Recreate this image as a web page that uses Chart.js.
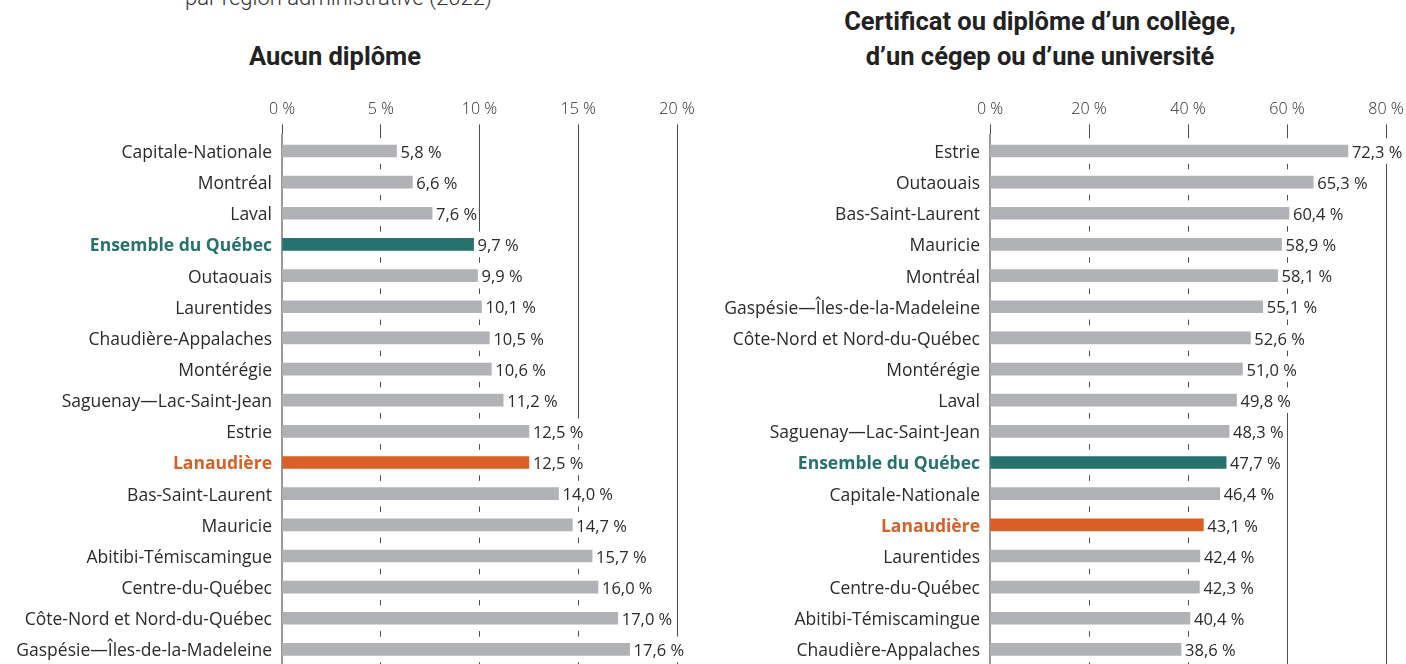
<!DOCTYPE html>
<html lang="fr">
<head>
<meta charset="utf-8">
<script src="https://cdn.jsdelivr.net/npm/chart.js@4"></script>
<style>
  html, body { margin: 0; padding: 0; background: #fff; overflow: hidden; }
  body { width: 1406px; height: 664px; position: relative; font-family: Roboto, "Noto Sans", sans-serif; color: #2b2b2b; }
  canvas { position: absolute; top: 0; }
  .title { position: absolute; width: 440px; text-align: center; font-weight: 700; font-size: 25.5px; line-height: 35px; color: #222; }
  .sub { position: absolute; left: 185px; top: -13px; font-size: 22px; line-height: 22px; font-weight: 300; color: #333; }
</style>
</head>
<body>
<div class="sub">par région administrative (2022)</div>
<div class="title" style="left:115px; top:39px;">Aucun diplôme</div>
<div class="title" style="left:820px; top:4px;">Certificat ou diplôme d’un collège,<br>d’un cégep ou d’une université</div>
<canvas id="left" width="700" height="665" style="left:0"></canvas>
<canvas id="right" width="706" height="665" style="left:700px"></canvas>
<script>
const leftRegions = [
  "Capitale-Nationale", "Montréal", "Laval", "Ensemble du Québec", "Outaouais",
  "Laurentides", "Chaudière-Appalaches", "Montérégie", "Saguenay—Lac-Saint-Jean",
  "Estrie", "Lanaudière", "Bas-Saint-Laurent", "Mauricie", "Abitibi-Témiscamingue",
  "Centre-du-Québec", "Côte-Nord et Nord-du-Québec", "Gaspésie—Îles-de-la-Madeleine",
];
const leftValues = [5.8, 6.6, 7.6, 9.7, 9.9, 10.1, 10.5, 10.6, 11.2, 12.5, 12.5, 14.0, 14.7, 15.7, 16.0, 17.0, 17.6];
const leftTicks = [0, 5, 10, 15, 20];

const rightRegions = [
  "Estrie", "Outaouais", "Bas-Saint-Laurent", "Mauricie", "Montréal",
  "Gaspésie—Îles-de-la-Madeleine", "Côte-Nord et Nord-du-Québec", "Montérégie", "Laval",
  "Saguenay—Lac-Saint-Jean", "Ensemble du Québec", "Capitale-Nationale", "Lanaudière",
  "Laurentides", "Centre-du-Québec", "Abitibi-Témiscamingue", "Chaudière-Appalaches",
];
const rightValues = [72.3, 65.3, 60.4, 58.9, 58.1, 55.1, 52.6, 51.0, 49.8, 48.3, 47.7, 46.4, 43.1, 42.4, 42.3, 40.4, 38.6];
const rightTicks = [0, 20, 40, 60, 80];

const TEAL = "#26726c", ORANGE = "#d95f26", GREY = "#b1b2b5", TEXT = "#2b2b2b";
const FONT = '"Open Sans", "Noto Sans", sans-serif';
const valueFont = `400 16.5px ${FONT}`;
const GAP = 4; // space between bar end and its value

const fmt = (v) => v.toFixed(1).replace(".", ",") + " %";
const colorFor = (name, base) => name === "Ensemble du Québec" ? TEAL : name === "Lanaudière" ? ORANGE : base;

// blanks the grid behind each bar and its value label, then writes the value
const maskPlugin = {
  id: "mask",
  beforeDatasetsDraw(chart) {
    const { ctx, chartArea } = chart;
    const values = chart.data.datasets[0].data;
    ctx.save();
    ctx.font = valueFont;
    ctx.fillStyle = "#fff";
    chart.getDatasetMeta(0).data.forEach((bar, i) => {
      const w = ctx.measureText(fmt(values[i])).width;
      const x0 = chartArea.left + 1.5;
      ctx.fillRect(x0, bar.y - 12.8, bar.x + GAP + w + 1 - x0, 25.6);
    });
    ctx.restore();
  },
  afterDatasetsDraw(chart) {
    const { ctx } = chart;
    const values = chart.data.datasets[0].data;
    ctx.save();
    ctx.font = valueFont;
    ctx.fillStyle = TEXT;
    ctx.textBaseline = "middle";
    chart.getDatasetMeta(0).data.forEach((bar, i) => {
      ctx.fillText(fmt(values[i]), bar.x + GAP, bar.y + 2);
    });
    ctx.restore();
  },
};

function makeChart(id, labels, values, ticks, axisWidth, padRight) {
  return new Chart(document.getElementById(id), {
    type: "bar",
    data: {
      labels,
      datasets: [{
        data: values,
        backgroundColor: labels.map((l) => colorFor(l, GREY)),
        barThickness: 12,
      }],
    },
    options: {
      indexAxis: "y",
      responsive: false,
      animation: false,
      layout: { padding: { top: 0, left: 0, bottom: 0, right: padRight } },
      plugins: { legend: { display: false }, tooltip: { enabled: false } },
      scales: {
        x: {
          position: "top",
          min: ticks[0], max: ticks[ticks.length - 1],
          afterBuildTicks: (s) => { s.ticks = ticks.map((v) => ({ value: v })); },
          afterFit: (s) => {
            s.height = 135.4;
            s.paddingLeft = 0; s.paddingRight = 0; s.paddingTop = 0; s.paddingBottom = 0;
          },
          grid: { color: "#4d4d4d", lineWidth: 1, tickLength: 11, drawTicks: true },
          border: { display: false },
          ticks: {
            color: TEXT, padding: 5,
            font: { family: FONT, size: 16, weight: 300 },
            callback: (v) => v + " %",
          },
        },
        y: {
          afterFit: (s) => {
            s.width = axisWidth;
            s.paddingLeft = 0; s.paddingRight = 0; s.paddingTop = 0; s.paddingBottom = 0;
          },
          grid: { display: false, drawTicks: false },
          border: { display: true, color: "#999", width: 2 },
          ticks: {
            autoSkip: false, padding: 10, labelOffset: 2,
            color: (c) => colorFor(labels[c.index], TEXT),
            font: (c) => {
              const hi = colorFor(labels[c.index], null) !== null;
              return { family: FONT, size: 17.5, weight: hi ? 700 : 400 };
            },
          },
        },
      },
    },
    plugins: [maskPlugin],
  });
}

makeChart("left", leftRegions, leftValues, leftTicks, 282, 23);
makeChart("right", rightRegions, rightValues, rightTicks, 290, 20);
</script>
</body>
</html>
